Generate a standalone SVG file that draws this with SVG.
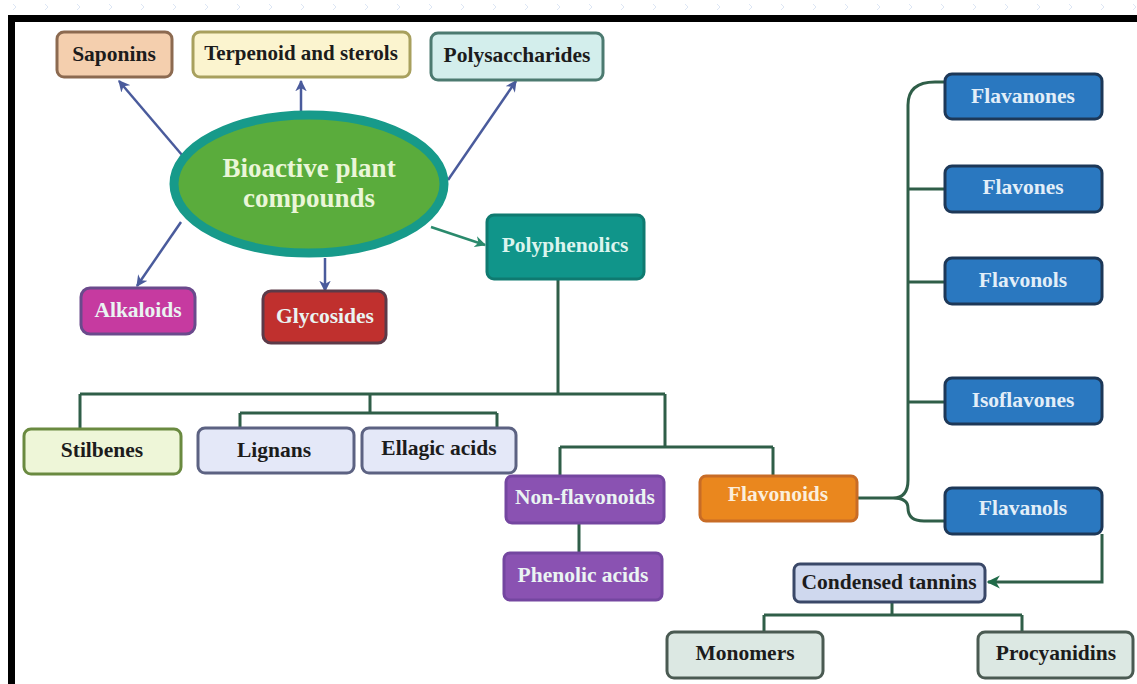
<svg xmlns="http://www.w3.org/2000/svg" width="1137" height="684" viewBox="0 0 1137 684">
<defs>
<pattern id="bgp" width="32" height="16" patternUnits="userSpaceOnUse">
<path d="M13 4 L16 7 L13 10" fill="none" stroke="#dde6f4" stroke-width="1"/>
</pattern>
<marker id="ab" viewBox="0 0 10 10" refX="9" refY="5" markerWidth="4.6" markerHeight="4.6" orient="auto" markerUnits="strokeWidth">
<path d="M0 0 L10 5 L0 10 L3 5 Z" fill="#4a5b9c"/>
</marker>
<marker id="at" viewBox="0 0 10 10" refX="9" refY="5" markerWidth="4.6" markerHeight="4.6" orient="auto" markerUnits="strokeWidth">
<path d="M0 0 L10 5 L0 10 L3 5 Z" fill="#2a8a6c"/>
</marker>
<marker id="ag" viewBox="0 0 10 10" refX="9" refY="5" markerWidth="4.4" markerHeight="4.4" orient="auto" markerUnits="strokeWidth">
<path d="M0 0 L10 5 L0 10 L3 5 Z" fill="#1f6a48"/>
</marker>
</defs>
<style>
.b{stroke-width:3}
.t{font-family:"Liberation Serif","Times New Roman",serif;font-weight:bold;font-size:21.5px;text-anchor:middle;dominant-baseline:central}
.dk{fill:#1c1c1c}
.lt{fill:#eaf4f2}
.arr{fill:none;stroke:#4a5b9c;stroke-width:2.5}
.con{fill:none;stroke:#2f5e48;stroke-width:3}
</style>
<rect x="0" y="0" width="1137" height="684" fill="#ffffff"/>
<rect x="0" y="0" width="1137" height="15" fill="url(#bgp)"/>
<rect x="0" y="15" width="8" height="669" fill="url(#bgp)"/>
<rect x="8" y="15" width="1129" height="7" fill="#000"/>
<rect x="8" y="15" width="7" height="669" fill="#000"/>

<g id="connectors">
<line class="arr" x1="182" y1="155" x2="119" y2="81" marker-end="url(#ab)"/>
<line class="arr" x1="301" y1="111" x2="301" y2="81" marker-end="url(#ab)"/>
<line class="arr" x1="448" y1="180" x2="516" y2="81" marker-end="url(#ab)"/>
<line class="arr" x1="181" y1="222" x2="137" y2="286" marker-end="url(#ab)"/>
<line class="arr" x1="325" y1="258" x2="325" y2="291" marker-end="url(#ab)"/>
<line x1="431" y1="227" x2="485" y2="245" fill="none" stroke="#2a8a6c" stroke-width="2.5" marker-end="url(#at)"/>
<path class="con" d="M558 279 V394 M80 394 H665 M80 394 V429 M370 394 V413 M240 413 H497 M240 413 V428 M497 413 V428 M665 394 V447 M560 447 H773 M560 447 V476 M773 447 V476 M579 523 V553"/>
<path class="con" d="M857 498 H893 Q908 498 908 480 V105 Q908 82 935 82 H945 M908 189 H945 M908 282 H945 M908 402 H945 M893 498 Q908 498 908 508 Q908 521 924 521 H945"/>
<path d="M1102 534 V582 H988" fill="none" stroke="#2f5e48" stroke-width="3" marker-end="url(#ag)"/>
<path class="con" d="M892 602 V615 M764 615 H1022 M764 615 V632 M1022 615 V632"/>
</g>

<g id="bioactive">
<ellipse cx="309" cy="184" rx="135" ry="69" fill="#5aac3c" stroke="#179a8a" stroke-width="9"/>
<text class="t" x="309" y="168" fill="#eaf6d8" style="font-size:27px">Bioactive plant</text>
<text class="t" x="309" y="198" fill="#eaf6d8" style="font-size:27px">compounds</text>
</g>
<g id="saponins"><rect class="b" x="57" y="32" width="115" height="45" rx="7" fill="#f4cfae" stroke="#8c6a50"/><text class="t dk" x="114" y="54">Saponins</text></g>
<g id="terpenoid"><rect class="b" x="193" y="32" width="217" height="45" rx="7" fill="#fbf4cf" stroke="#a8a05e"/><text class="t dk" x="301" y="53" style="font-size:21px">Terpenoid and sterols</text></g>
<g id="polysaccharides"><rect class="b" x="431" y="33" width="172" height="47" rx="7" fill="#d3eeec" stroke="#4c7a70"/><text class="t dk" x="517" y="55">Polysaccharides</text></g>
<g id="alkaloids"><rect class="b" x="81" y="288" width="114" height="46" rx="9" fill="#c63aa0" stroke="#6a4a8c"/><text class="t lt" x="138" y="310">Alkaloids</text></g>
<g id="glycosides"><rect class="b" x="263" y="291" width="123" height="52" rx="8" fill="#c0302e" stroke="#5c3a48"/><text class="t lt" x="325" y="316">Glycosides</text></g>
<g id="polyphenolics"><rect class="b" x="487" y="215" width="157" height="64" rx="7" fill="#10958a" stroke="#0f7a70"/><text class="t" x="565" y="245" fill="#dcf4ee">Polyphenolics</text></g>
<g id="stilbenes"><rect class="b" x="24" y="429" width="157" height="45" rx="7" fill="#eef6d8" stroke="#6a8a40"/><text class="t dk" x="102" y="450">Stilbenes</text></g>
<g id="lignans"><rect class="b" x="198" y="428" width="156" height="45" rx="7" fill="#e4e8f8" stroke="#5c6282"/><text class="t dk" x="274" y="450">Lignans</text></g>
<g id="ellagic"><rect class="b" x="362" y="428" width="154" height="45" rx="7" fill="#e4e8f8" stroke="#5c6282"/><text class="t dk" x="439" y="448">Ellagic acids</text></g>
<g id="nonflavonoids"><rect class="b" x="506" y="476" width="158" height="47" rx="6" fill="#8a52b2" stroke="#7446a0"/><text class="t lt" x="585" y="497">Non-flavonoids</text></g>
<g id="phenolic"><rect class="b" x="504" y="553" width="158" height="47" rx="6" fill="#8a52b2" stroke="#7446a0"/><text class="t lt" x="583" y="575">Phenolic acids</text></g>
<g id="flavonoids"><rect class="b" x="700" y="476" width="157" height="45" rx="6" fill="#ea871e" stroke="#c86c26"/><text class="t" x="778" y="494" fill="#fbeedc">Flavonoids</text></g>
<g id="flavanones"><rect class="b" x="945" y="74" width="157" height="45" rx="7" fill="#2a78c0" stroke="#1d3858"/><text class="t" x="1023" y="96" fill="#e2eef8">Flavanones</text></g>
<g id="flavones"><rect class="b" x="945" y="166" width="157" height="46" rx="7" fill="#2a78c0" stroke="#1d3858"/><text class="t" x="1023" y="187" fill="#e2eef8">Flavones</text></g>
<g id="flavonols"><rect class="b" x="945" y="258" width="157" height="46" rx="7" fill="#2a78c0" stroke="#1d3858"/><text class="t" x="1023" y="280" fill="#e2eef8">Flavonols</text></g>
<g id="isoflavones"><rect class="b" x="945" y="378" width="157" height="46" rx="7" fill="#2a78c0" stroke="#1d3858"/><text class="t" x="1023" y="400" fill="#e2eef8">Isoflavones</text></g>
<g id="flavanols"><rect class="b" x="945" y="488" width="157" height="46" rx="7" fill="#2a78c0" stroke="#1d3858"/><text class="t" x="1023" y="508" fill="#e2eef8">Flavanols</text></g>
<g id="condensed"><rect class="b" x="794" y="564" width="191" height="38" rx="6" fill="#cfd8ee" stroke="#3a4868"/><text class="t dk" x="889" y="582">Condensed tannins</text></g>
<g id="monomers"><rect class="b" x="667" y="632" width="156" height="46" rx="7" fill="#dce8e3" stroke="#4a5a52"/><text class="t dk" x="745" y="653">Monomers</text></g>
<g id="procyanidins"><rect class="b" x="978" y="632" width="155" height="46" rx="7" fill="#dce8e3" stroke="#4a5a52"/><text class="t dk" x="1056" y="653">Procyanidins</text></g>
</svg>
